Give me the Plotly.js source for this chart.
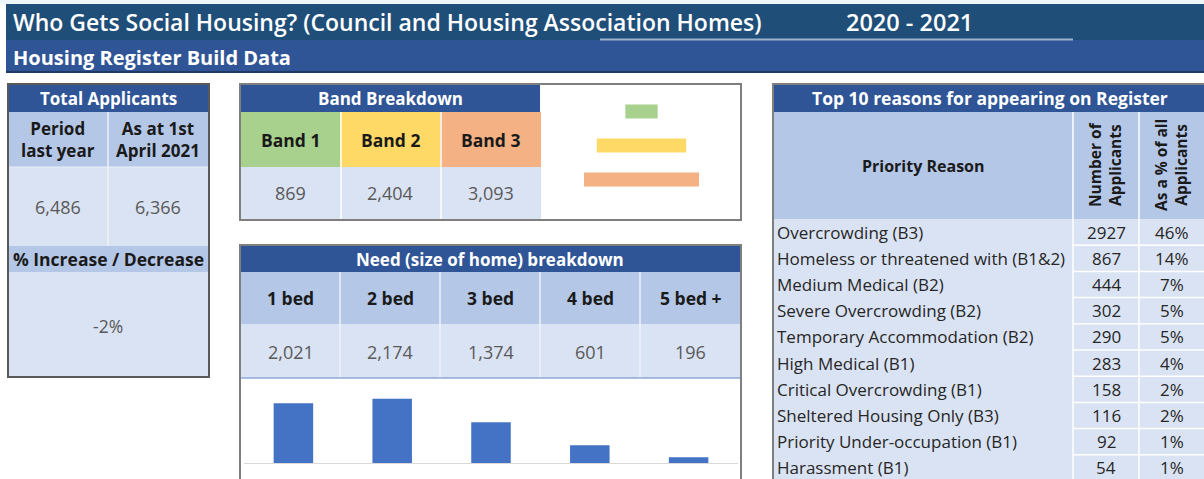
<!DOCTYPE html>
<html><head><meta charset="utf-8">
<script src="https://cdn.plot.ly/plotly-3.0.1.min.js"></script>
<style>html,body{margin:0;padding:0;background:#fff}#chart{width:1204px;height:479px}</style>
</head><body><div id="chart"></div>
<script>
// ---- data ----
const titleText = "Who Gets Social Housing? (Council and Housing Association Homes)";
const periodText = "2020 - 2021";
const subtitleText = "Housing Register Build Data";
const totalLabels = ["Period<br>last year", "As at 1st<br>April 2021"];
const totalValues = [6486, 6366];
const changePct = -2;
const bands = ["Band 1", "Band 2", "Band 3"];
const bandValues = [869, 2404, 3093];
const bandColors = ["#A9D18E", "#FFD966", "#F4B183"];
const beds = ["1 bed", "2 bed", "3 bed", "4 bed", "5 bed +"];
const bedValues = [2021, 2174, 1374, 601, 196];
const reasons = ["Overcrowding (B3)", "Homeless or threatened with (B1&2)", "Medium Medical (B2)",
  "Severe Overcrowding (B2)", "Temporary Accommodation (B2)", "High Medical (B1)",
  "Critical Overcrowding (B1)", "Sheltered Housing Only (B3)", "Priority Under-occupation (B1)", "Harassment (B1)"];
const reasonCounts = [2927, 867, 444, 302, 290, 283, 158, 116, 92, 54];
const reasonPct = [46, 14, 7, 5, 5, 4, 2, 2, 1, 1];

// ---- layout helpers (pixel -> paper) ----
const W = 1204, H = 479;
const FX = x => x / W, FY = y => 1 - y / H;
const FONT = "'Open Sans', Lato, sans-serif";
const shapes = [], ann = [];
function rect(x0, y0, x1, y1, fill, lc, lw) {
  shapes.push({type: "rect", xref: "paper", yref: "paper", x0: FX(x0), x1: FX(x1), y0: FY(y1), y1: FY(y0),
    fillcolor: fill || "rgba(0,0,0,0)", line: {color: lc || "rgba(0,0,0,0)", width: lw || 0}, layer: "below"});
}
function line(x0, y0, x1, y1, c, w) {
  shapes.push({type: "line", xref: "paper", yref: "paper", x0: FX(x0), x1: FX(x1), y0: FY(y0), y1: FY(y1),
    line: {color: c, width: w}, layer: "below"});
}
function txt(x, y, t, size, color, weight, xa, extra) {
  ann.push(Object.assign({xref: "paper", yref: "paper", x: FX(x), y: FY(y), text: t,
    showarrow: false, xanchor: xa || "center", yanchor: "middle", align: "center",
    font: {family: FONT, size: size, color: color, weight: weight || 400}}, extra || {}));
}
const fmt = v => v.toLocaleString("en-GB");
const DARK = "#2F5597", LIGHT = "#B4C7E7", PALE = "#DAE3F3", VAL = "#595959", BORDER = "#7F7F7F", INK = "#1A1A1A";

// ---- title bars ----
rect(0, 0, 1204, 4, "#EEF6F8");
rect(6, 4, 1204, 40, "#1F4E79");
rect(6, 40, 1204, 72, "#2F5597");
line(6, 72, 1204, 72, "#1F3864", 2);
line(600, 39.5, 1073, 39.5, "#9DB3CC", 2);
txt(11, 22, titleText, 23, "#FFFFFF", 600, "left");
txt(844, 22, periodText, 23.5, "#FFFFFF", 600, "left");
txt(11, 57, subtitleText, 20, "#FFFFFF", 700, "left");

// ---- Total Applicants ----
rect(8, 84, 209, 112, DARK);
rect(8, 112, 209, 167, LIGHT);
rect(8, 167, 209, 246, PALE);
rect(8, 246, 209, 272, LIGHT);
rect(8, 272, 209, 377, PALE);
line(108, 112, 108, 246, "#F2F2F2", 1.5);
line(8, 167, 209, 167, "#E8EEF8", 1);
rect(8, 84, 209, 377, null, "#595959", 2);
txt(108, 98, "Total Applicants", 17, "#FFFFFF", 700);
totalLabels.forEach((l, i) => txt(58 + i * 100, 139, l, 17, INK, 700));
totalValues.forEach((v, i) => txt(58 + i * 100, 207, fmt(v), 18, VAL, 400));
txt(108, 259, "% Increase / Decrease", 17.5, INK, 700);
txt(108, 326, changePct + "%", 17.5, VAL, 400);

// ---- Band Breakdown ----
rect(240, 84, 540, 112, DARK);
bands.forEach((b, i) => {
  rect(240 + i * 100, 112, 341 + i * 100, 167, bandColors[i]);
  rect(240 + i * 100, 167, 341 + i * 100, 220, PALE);
  txt(290.5 + i * 100, 140, b, 17.5, INK, 700);
  txt(290.5 + i * 100, 193, fmt(bandValues[i]), 18, VAL, 400);
});
line(341, 112, 341, 220, "#FFFFFF", 1.5);
line(441, 112, 441, 220, "#FFFFFF", 1.5);
rect(240, 84, 741, 220, null, BORDER, 2);
txt(390, 98, "Band Breakdown", 17, "#FFFFFF", 700);

// ---- Need breakdown ----
rect(240, 245, 741, 272, DARK);
rect(240, 272, 741, 324, LIGHT);
rect(240, 324, 741, 378, PALE);
beds.forEach((b, i) => {
  txt(290.5 + i * 100, 298, b, 17.5, INK, 700);
  txt(290.5 + i * 100, 352, fmt(bedValues[i]), 18, VAL, 400);
  if (i > 0) line(240 + i * 100, 272, 240 + i * 100, 378, "#EEF2FA", 1.5);
});
line(240, 378, 741, 378, "#8EA9DB", 1.5);
rect(240, 245, 741, 482, null, BORDER, 2);
txt(490, 259, "Need (size of home) breakdown", 17, "#FFFFFF", 700);

// ---- Top 10 reasons ----
const T0 = 773, C1 = 1073, C2 = 1139, T1 = 1206, R0 = 219, RH = 26.2;
rect(T0, 84, T1, 112, DARK);
rect(T0, 112, T1, R0, LIGHT);
rect(T0, R0, T1, 482, PALE);
line(C1, 112, C1, 482, "#FFFFFF", 1.5);
line(C2, 112, C2, 482, "#FFFFFF", 1.5);
reasons.forEach((r, i) => {
  const yc = R0 + RH * (i + 0.5);
  if (i > 0) line(C1, R0 + RH * i, T1, R0 + RH * i, "#FFFFFF", 1.5);
  txt(775, yc, r, 17, "#262626", 400, "left");
  txt((C1 + C2) / 2, yc, String(reasonCounts[i]), 17, "#262626", 400);
  txt((C2 + 1204) / 2, yc, reasonPct[i] + "%", 17, "#262626", 400);
});
rect(T0, 84, T1, 482, null, BORDER, 2);
txt(990, 98, "Top 10 reasons for appearing on Register", 17.5, "#FFFFFF", 700);
txt(923, 166, "Priority Reason", 16, INK, 700);
txt(1105, 165, "Number of<br>Applicants", 15.5, INK, 700, "center", {textangle: -90});
txt(1171, 165, "As a % of all<br>Applicants", 15.5, INK, 700, "center", {textangle: -90});

// ---- traces ----
const funnel = {
  type: "funnel", orientation: "h", y: bands, x: bandValues, xaxis: "x", yaxis: "y",
  marker: {color: bandColors, line: {width: 0}}, connector: {visible: false},
  textinfo: "none", hoverinfo: "skip"
};
const bars = {
  type: "bar", x: beds, y: bedValues, xaxis: "x2", yaxis: "y2",
  marker: {color: "#4472C4", line: {width: 0}}, hoverinfo: "skip"
};

const hidden = {showgrid: false, zeroline: false, showticklabels: false, showline: false, ticks: ""};
const layout = {
  width: W, height: H, margin: {l: 0, r: 0, t: 0, b: 0}, paper_bgcolor: "#FFFFFF", plot_bgcolor: "rgba(0,0,0,0)",
  showlegend: false, funnelgap: 0.59, bargap: 0.6,
  xaxis: Object.assign({domain: [FX(545), FX(738)], range: [-2595, 2595], fixedrange: true}, hidden),
  yaxis: Object.assign({domain: [FY(196.5), FY(94.5)], autorange: "reversed", type: "category", fixedrange: true}, hidden),
  xaxis2: Object.assign({}, hidden, {domain: [FX(244), FX(738)], showline: true, linecolor: "#D9D9D9", linewidth: 1, anchor: "y2", type: "category"}),
  yaxis2: Object.assign({}, hidden, {domain: [FY(463), FY(389)], range: [0, 2500], anchor: "x2"}),
  shapes: shapes, annotations: ann
};
Plotly.newPlot("chart", [funnel, bars], layout, {staticPlot: true, displayModeBar: false});
</script></body></html>
